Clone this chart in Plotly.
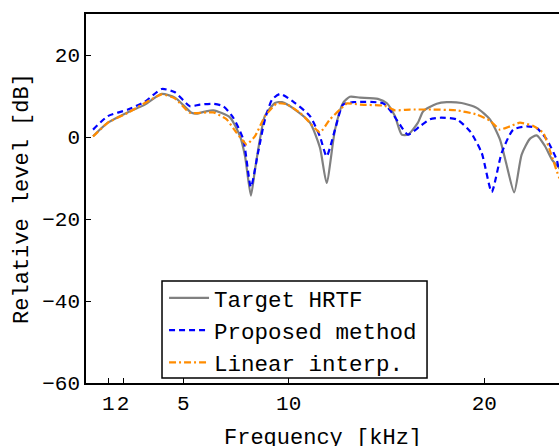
import plotly.graph_objects as go

# Frequency axis (kHz) and levels (dB)
freq_target = [0.0, 0.76, 1.76, 2.65, 3.51, 4.19, 5.04, 5.30, 5.72, 6.15, 7.0, 7.51, 7.77, 8.07, 8.28,
               8.53, 8.78, 9.30, 9.66, 10.32, 11.09, 11.6, 11.94, 12.37, 12.78, 13.13, 13.65, 14.56,
               15.01, 15.43, 15.78, 16.11, 16.61, 16.88, 17.57, 18.08, 18.84, 19.61, 20.29, 20.80,
               21.11, 21.53, 21.91, 22.34, 22.68, 23.10, 23.46, 23.82, 24.0]
level_target = [0.2, 3.5, 6.0, 7.9, 10.5, 9.6, 5.9, 5.7, 6.2, 6.5, 4.8, 0.2, -4.7, -14.3, -7.9,
                -0.6, 5.1, 8.3, 8.5, 6.7, 3.5, -2.6, -11.2, 1.8, 8.3, 9.8, 9.6, 9.3,
                8.3, 5.1, 0.6, 0.6, 3.5, 6.3, 8.1, 8.5, 8.3, 7.1, 4.3, -0.6,
                -6.2, -13.5, -4.3, -0.4, 0.4, -2.2, -5.5, -7.5, -8.5]

freq_proposed = [0.0, 0.76, 1.78, 2.65, 3.51, 4.19, 4.95, 5.47, 6.15, 6.66, 7.17, 7.68, 8.07, 8.43,
                 8.79, 9.15, 9.56, 10.32, 11.09, 11.60, 11.94, 12.37, 12.78, 13.30, 14.84, 15.28,
                 15.69, 16.10, 16.71, 17.22, 17.74, 18.59, 19.27, 19.87, 20.38, 20.89, 21.48, 22.17,
                 22.68, 23.19, 23.70, 23.82, 24.0]
level_proposed = [1.8, 5.1, 6.7, 8.6, 11.7, 10.9, 7.5, 7.9, 8.1, 7.5, 4.7, -0.6, -12.2, -3.9,
                  4.3, 9.1, 10.5, 8.3, 5.1, 0.1, -4.7, 1.8, 7.9, 8.5, 8.2, 5.9,
                  3.0, 0.6, 2.6, 4.3, 4.7, 4.3, 1.4, -3.9, -13.4, -3.9, 1.8, 2.6,
                  2.2, -0.6, -5.5, -7.9, -9.0]

freq_linear = [0.0, 0.76, 1.78, 3.51, 4.19, 4.95, 6.15, 6.83, 7.34, 7.85, 8.28, 8.79, 9.39, 9.90,
               10.58, 10.92, 11.60, 12.11, 12.62, 12.98, 13.65, 14.92, 15.43, 16.20, 17.39, 18.59,
               19.61, 20.29, 20.80, 21.31, 21.82, 22.51, 23.02, 23.46, 23.82, 24.0]
level_linear = [0.1, 3.5, 5.9, 10.4, 9.4, 5.9, 6.0, 4.3, 1.0, -1.8, 0.2, 5.1, 8.2, 8.0,
                5.9, 4.3, 1.1, 4.3, 6.7, 8.2, 7.9, 7.6, 6.5, 6.7, 6.7, 6.5,
                5.5, 4.0, 1.8, 2.6, 3.5, 2.7, 1.0, -4.8, -9.8, -11.0]

series_names = ["Target HRTF", "Proposed method", "Linear interp."]

# Tick labels and where they sit on the frequency axis in the reference
x_tick_text = ["1", "2", "5", "10", "20"]
x_tick_pos = [0.78, 1.54, 4.61, 10.0, 20.0]
y_tick_vals = [-60, -40, -20, 0, 20]

FONT = "Liberation Mono, Courier New, monospace"

fig = go.Figure()
fig.add_trace(go.Scatter(x=freq_target, y=level_target, mode="lines", name=series_names[0],
                         line=dict(color="#808080", width=2.2, shape="spline", smoothing=0.6)))
fig.add_trace(go.Scatter(x=freq_proposed, y=level_proposed, mode="lines", name=series_names[1],
                         line=dict(color="#0000ff", width=2.2, dash="6px,4px", shape="spline", smoothing=0.6)))
fig.add_trace(go.Scatter(x=freq_linear, y=level_linear, mode="lines", name=series_names[2],
                         line=dict(color="#ff8c00", width=2.2, dash="7px,3px,2px,3px", shape="spline", smoothing=0.4)))

# legend frame drawn as a white box with a black border
fig.add_shape(type="rect", xref="paper", yref="paper", x0=0.1607, x1=0.721, y0=0.0136, y1=0.2764,
              fillcolor="white", line=dict(color="black", width=1.5), layer="above")

# x-axis title placed as an annotation so it sits at the reference's height
fig.add_annotation(text="Frequency [kHz]", xref="paper", yref="paper", x=0.5, y=0,
                   xanchor="center", yanchor="middle", yshift=-55, showarrow=False,
                   font=dict(family=FONT, size=22, color="black"))

fig.update_layout(
    width=559, height=446,
    margin=dict(l=86, r=0, t=14, b=63, autoexpand=False),
    paper_bgcolor="white", plot_bgcolor="white",
    font=dict(family=FONT, size=22, color="black"),
    showlegend=True,
    legend=dict(x=0.165, y=0.288, xanchor="left", yanchor="top",
                bgcolor="rgba(0,0,0,0)", borderwidth=0,
                font=dict(family=FONT, size=22.5, color="black"),
                tracegroupgap=0, itemwidth=40),
    xaxis=dict(range=[-0.36, 23.82], tickmode="array", tickvals=x_tick_pos, ticktext=x_tick_text,
               ticks="inside", ticklen=5, tickcolor="black", showgrid=False, zeroline=False,
               showline=True, linecolor="black", linewidth=1.5, mirror=True, automargin=False,
               tickangle=0,
               tickfont=dict(family=FONT, size=21)),
    yaxis=dict(range=[-60, 30], tickmode="array", tickvals=y_tick_vals,
               ticks="inside", ticklen=5, tickcolor="black", showgrid=False, zeroline=False,
               showline=True, linecolor="black", linewidth=1.5, mirror=False, automargin=False,
               title=dict(text="Relative level [dB]", standoff=8, font=dict(family=FONT, size=22)),
               tickfont=dict(family=FONT, size=21)),
)

fig.write_html("out.html", config={"displayModeBar": False},
               post_script="document.body.style.margin='0';document.body.style.overflow='hidden';")
